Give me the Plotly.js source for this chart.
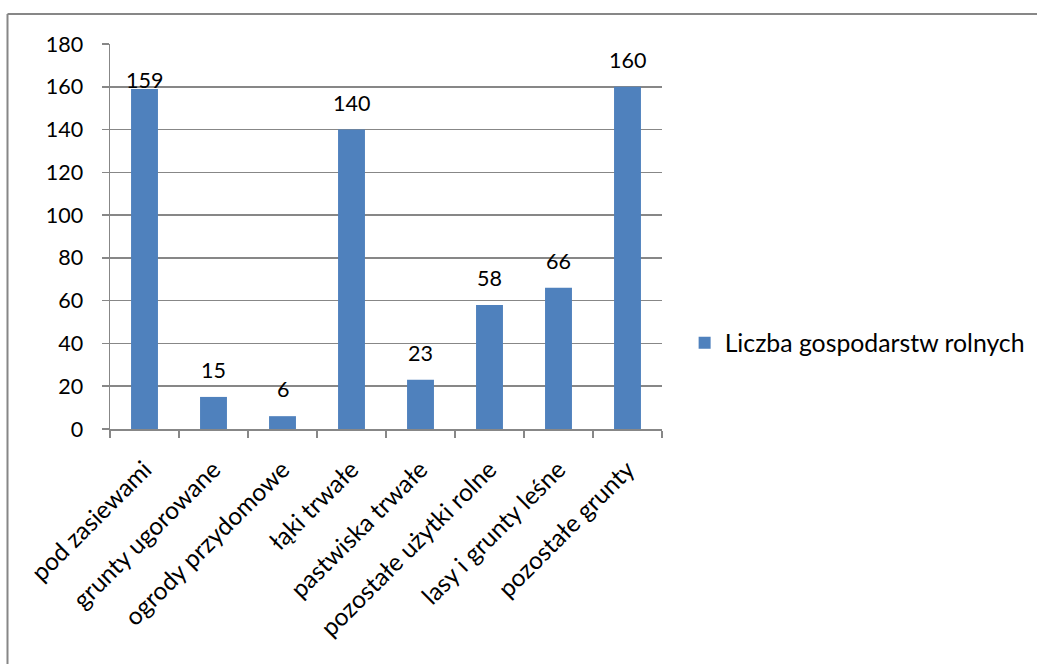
<!DOCTYPE html>
<html>
<head>
<meta charset="utf-8">
<script src="https://cdn.plot.ly/plotly-3.0.1.min.js"></script>
<style>html,body{margin:0;padding:0;background:#fff;}#chart{width:1037px;height:664px;}</style>
</head>
<body>
<div id="chart"></div>
<script>
const categories = ["pod zasiewami","grunty ugorowane","ogrody przydomowe","łąki trwałe","pastwiska trwałe","pozostałe użytki rolne","lasy i grunty leśne","pozostałe grunty"];
const values = [159, 15, 6, 140, 23, 58, 66, 160];
const seriesName = "Liczba gospodarstw rolnych";
const yTicks = [0,20,40,60,80,100,120,140,160,180];

const FONT = "Lato, Calibri, 'Noto Sans', sans-serif";
const GRAY = "#878787";

const trace = {
  type: "bar",
  x: categories,
  y: values,
  name: seriesName,
  marker: {color: "#4F81BD"},
  hoverinfo: "x+y"
};

const labelAnnotations = categories.map((c, i) => ({
  x: c, y: values[i], xref: "x", yref: "y",
  text: String(values[i]),
  showarrow: false,
  xanchor: "center", yanchor: "bottom",
  yshift: i === 0 ? -6 : 12,
  font: {family: FONT, size: 21.5, color: "#000"}
}));

const layout = {
  width: 1037, height: 664,
  margin: {l: 110, r: 375, t: 44, b: 235, autoexpand: false},
  paper_bgcolor: "#fff", plot_bgcolor: "#fff",
  font: {family: FONT, size: 21, color: "#000"},
  bargap: 0.61,
  showlegend: true,
  legend: {xref: "container", yref: "container", x: 0.6602, y: 0.4834, xanchor: "left", yanchor: "middle", font: {family: FONT, size: 24.8, color: "#000"}, bgcolor: "rgba(0,0,0,0)"},
  xaxis: {
    type: "category",
    tickangle: -45,
    tickson: "boundaries",
    ticks: "outside", ticklen: 7, tickcolor: GRAY, tickwidth: 1.5,
    ticklabelstandoff: 15,
    showline: true, linecolor: GRAY, linewidth: 1.5,
    showgrid: false,
    tickfont: {family: FONT, size: 24.5, color: "#000"}
  },
  yaxis: {
    range: [0, 180],
    tickvals: yTicks,
    ticktext: yTicks.map(String),
    ticks: "outside", ticklen: 7, tickcolor: GRAY, tickwidth: 1.5,
    ticklabelstandoff: 14,
    showline: true, linecolor: GRAY, linewidth: 1.5,
    showgrid: true, gridcolor: GRAY, gridwidth: 1.5,
    zeroline: false,
    tickfont: {family: FONT, size: 21.5, color: "#000"}
  },
  annotations: labelAnnotations,
  shapes: [
    {type: "line", xref: "paper", yref: "paper", x0: -0.1857, x1: 1.70, y0: 1.0779, y1: 1.0779, line: {color: GRAY, width: 2}},
    {type: "line", xref: "paper", yref: "paper", x0: -0.1857, x1: -0.1857, y0: 1.0779, y1: -0.65, line: {color: GRAY, width: 2}}
  ]
};

Plotly.newPlot("chart", [trace], layout, {displayModeBar: false, staticPlot: true});
</script>
</body>
</html>
